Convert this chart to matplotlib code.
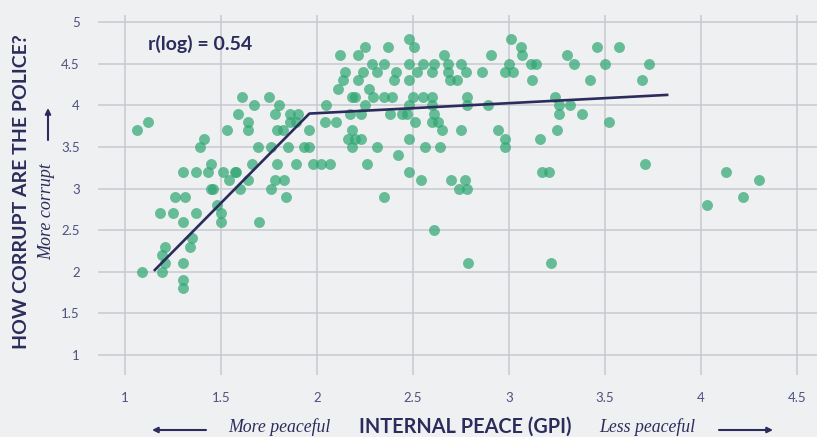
import numpy as np
import matplotlib
matplotlib.use('Agg')
import matplotlib.pyplot as plt

# GPI internal peace score vs. perceived police corruption
gpi = [1.06, 1.12, 1.41, 1.39, 1.45, 1.30, 1.37, 1.43, 1.51, 1.57,
       1.58, 1.53, 1.61, 1.75, 1.67, 1.80, 1.59, 1.78, 1.86, 1.90,
       1.64, 1.86, 1.89, 1.64, 1.79, 1.82, 1.96, 1.69, 1.76, 1.85,
       1.93, 1.96, 1.66, 1.79, 1.89, 1.98, 2.02, 1.54, 1.64, 1.78,
       1.83, 1.45, 1.46, 1.60, 1.76, 1.26, 1.31, 1.84, 1.48, 1.18,
       1.25, 1.37, 1.50, 1.30, 1.50, 1.70, 1.35, 1.21, 1.34, 1.19,
       1.21, 1.30, 1.09, 1.19, 1.30, 1.30,
       2.48, 3.01, 2.25, 2.37, 2.505, 3.06, 2.12, 2.215, 2.66, 2.905,
       3.07, 2.285, 2.35, 2.48, 2.55, 2.61, 2.68, 2.75, 3.00, 3.115,
       3.14, 2.146, 2.24, 2.31, 2.41, 2.52, 2.60, 2.68, 2.775, 2.86,
       2.98, 3.02, 2.137, 2.215, 2.40, 2.48, 2.69, 2.73, 3.12, 2.11,
       2.27, 2.18, 2.20, 2.29, 2.35, 2.39, 2.50, 2.55, 2.60, 2.78,
       2.047, 2.25, 2.48, 2.60, 2.78, 2.89, 2.17, 2.23, 2.38, 2.44,
       2.47, 2.61, 2.04, 2.10, 2.51, 2.60, 2.63, 2.18, 2.65, 2.75,
       2.94, 2.16, 2.20, 2.23, 2.48, 2.98, 2.18, 2.31, 2.56, 2.64,
       2.98, 2.42, 2.07, 2.26, 2.48, 2.54, 2.70, 2.77, 2.74, 2.78,
       2.35, 2.61, 2.785,
       3.30, 3.46, 3.575, 3.34, 3.50, 3.73, 3.42, 3.69, 3.24, 3.26,
       3.32, 3.26, 3.38, 3.52, 3.25, 3.16, 3.71, 3.17, 3.21, 4.13,
       4.30, 4.22, 3.22, 4.03]
police = [3.7, 3.8, 3.6, 3.5, 3.3, 3.2, 3.2, 3.2, 3.2, 3.2,
          3.2, 3.7, 4.1, 4.1, 4.0, 4.0, 3.9, 3.9, 3.9, 3.9,
          3.8, 3.8, 3.8, 3.7, 3.7, 3.7, 3.7, 3.5, 3.5, 3.5,
          3.5, 3.5, 3.3, 3.3, 3.3, 3.3, 3.3, 3.1, 3.1, 3.1,
          3.1, 3.0, 3.0, 3.0, 3.0, 2.9, 2.9, 2.9, 2.8, 2.7,
          2.7, 2.7, 2.7, 2.6, 2.6, 2.6, 2.4, 2.3, 2.3, 2.2,
          2.1, 2.1, 2.0, 2.0, 1.9, 1.8,
          4.8, 4.8, 4.7, 4.7, 4.7, 4.7, 4.6, 4.6, 4.6, 4.6,
          4.6, 4.5, 4.5, 4.5, 4.5, 4.5, 4.5, 4.5, 4.5, 4.5,
          4.5, 4.4, 4.4, 4.4, 4.4, 4.4, 4.4, 4.4, 4.4, 4.4,
          4.4, 4.4, 4.3, 4.3, 4.3, 4.3, 4.3, 4.3, 4.3, 4.2,
          4.2, 4.1, 4.1, 4.1, 4.1, 4.1, 4.1, 4.1, 4.1, 4.1,
          4.0, 4.0, 4.0, 4.0, 4.0, 4.0, 3.9, 3.9, 3.9, 3.9,
          3.9, 3.9, 3.8, 3.8, 3.8, 3.8, 3.8, 3.7, 3.7, 3.7,
          3.7, 3.6, 3.6, 3.6, 3.6, 3.6, 3.5, 3.5, 3.5, 3.5,
          3.5, 3.4, 3.3, 3.3, 3.2, 3.1, 3.1, 3.1, 3.0, 3.0,
          2.9, 2.5, 2.1,
          4.6, 4.7, 4.7, 4.5, 4.5, 4.5, 4.3, 4.3, 4.1, 4.0,
          4.0, 3.9, 3.9, 3.8, 3.7, 3.6, 3.3, 3.2, 3.2, 3.2,
          3.1, 2.9, 2.1, 2.8]

# piecewise trend line
fit_x = [1.15, 1.96, 3.83]
fit_y = [2.01, 3.90, 4.125]

xticks = [1, 1.5, 2, 2.5, 3, 3.5, 4, 4.5]
yticks = [1, 1.5, 2, 2.5, 3, 3.5, 4, 4.5, 5]

navy = '#2c2c5c'
tickc = '#4e5080'
bg = '#eff0f2'
sans = ['Lato', 'DejaVu Sans']
serif = ['Liberation Serif', 'DejaVu Serif']

W, H = 817, 437
fig = plt.figure(figsize=(W / 100, H / 100), dpi=100, facecolor=bg)
ax = fig.add_axes([98 / W, 1 - 375 / H, 1 - 98 / W, (375 - 15) / H])
ax.set_facecolor(bg)

ax.scatter(gpi, police, s=62, color='#2ea672', alpha=0.7, linewidths=0, zorder=3)
ax.plot(fit_x, fit_y, color=navy, lw=1.9, zorder=4, solid_capstyle='butt')

ax.set_xlim(0.859, 4.604)
ax.set_ylim(0.76, 5.084)
ax.set_xticks(xticks)
ax.set_yticks(yticks)
ax.set_xticklabels([f'{t:g}' for t in xticks], fontsize=9.5, color=tickc, family=sans)
ax.set_yticklabels([f'{t:g}' for t in yticks], fontsize=9.5, color=tickc, family=sans)
ax.tick_params(length=0, pad=12)
ax.tick_params(axis='y', pad=13)
ax.grid(True, color='#c9cacf', lw=1.1, zorder=0)
ax.set_axisbelow(True)
for s in ax.spines.values():
    s.set_visible(False)

ax.text(1.12, 4.74, 'r(log) = 0.54', fontsize=14, fontweight='bold',
        color=navy, family=sans, va='center')


def fp(x, y):
    return x / W, 1 - y / H


fig.text(*fp(465, 427), 'INTERNAL PEACE (GPI)', fontsize=14.3, fontweight='bold',
         color=navy, family=sans, ha='center', va='center')
fig.text(*fp(279, 427), 'More peaceful', fontsize=12.8, style='italic',
         color=navy, family=serif, ha='center', va='center')
fig.text(*fp(647, 427), 'Less peaceful', fontsize=12.8, style='italic',
         color=navy, family=serif, ha='center', va='center')
fig.text(*fp(22, 192), 'HOW CORRUPT ARE THE POLICE?', fontsize=14, fontweight='bold',
         color=navy, family=sans, ha='center', va='center', rotation=90)
fig.text(*fp(47, 212), 'More corrupt', fontsize=13, style='italic',
         color=navy, family=serif, ha='center', va='center', rotation=90)

arrow = dict(arrowstyle='-|>', color=navy, lw=1.5, mutation_scale=8, shrinkA=0, shrinkB=0)
fig.add_artist(matplotlib.patches.FancyArrowPatch(fp(206, 430), fp(152, 430),
               transform=fig.transFigure, **arrow))
fig.add_artist(matplotlib.patches.FancyArrowPatch(fp(719, 430), fp(773, 430),
               transform=fig.transFigure, **arrow))
fig.add_artist(matplotlib.patches.FancyArrowPatch(fp(48, 140), fp(48, 108),
               transform=fig.transFigure, **arrow))

fig.savefig('out.png', dpi=100, facecolor=bg)
